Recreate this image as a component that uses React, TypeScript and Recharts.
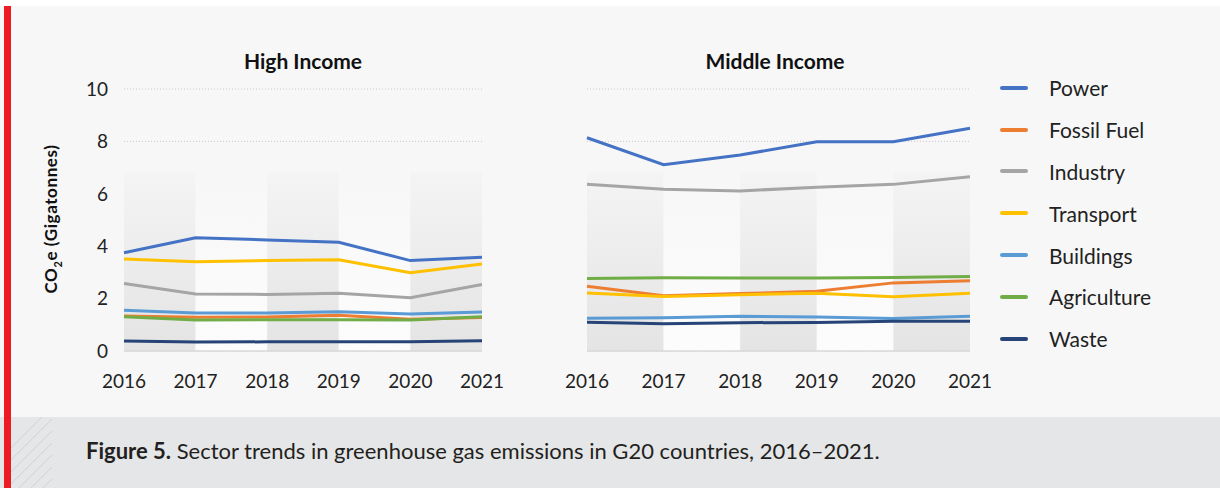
import React from "react";
import {
  LineChart,
  Line,
  XAxis,
  YAxis,
  CartesianGrid,
  ReferenceArea,
} from "recharts";

const years = [2016, 2017, 2018, 2019, 2020, 2021];
const yTicks = [0, 2, 4, 6, 8, 10];

const sectors = ["Power", "Fossil Fuel", "Industry", "Transport", "Buildings", "Agriculture", "Waste"];
const sectorColors = ["#4472C4", "#ED7D31", "#A5A5A5", "#FFC000", "#5B9BD5", "#70AD47", "#264478"];

// High income, Gt CO2e
const highPower = [3.75, 4.32, 4.24, 4.15, 3.45, 3.58];
const highFossil = [1.34, 1.29, 1.3, 1.36, 1.21, 1.28];
const highIndustry = [2.58, 2.18, 2.16, 2.2, 2.03, 2.54];
const highTransport = [3.51, 3.41, 3.45, 3.48, 2.99, 3.32];
const highBuildings = [1.56, 1.45, 1.45, 1.5, 1.41, 1.49];
const highAgriculture = [1.31, 1.18, 1.19, 1.19, 1.18, 1.31];
const highWaste = [0.38, 0.34, 0.35, 0.35, 0.35, 0.39];

// Middle income, Gt CO2e
const midPower = [8.14, 7.11, 7.48, 7.99, 7.99, 8.5];
const midFossil = [2.47, 2.11, 2.19, 2.28, 2.6, 2.68];
const midIndustry = [6.36, 6.17, 6.11, 6.25, 6.36, 6.65];
const midTransport = [2.21, 2.08, 2.15, 2.2, 2.07, 2.2];
const midBuildings = [1.25, 1.27, 1.33, 1.3, 1.24, 1.33];
const midAgriculture = [2.77, 2.8, 2.79, 2.79, 2.81, 2.84];
const midWaste = [1.1, 1.04, 1.08, 1.09, 1.14, 1.14];

const highSeries = [highPower, highFossil, highIndustry, highTransport, highBuildings, highAgriculture, highWaste];
const midSeries = [midPower, midFossil, midIndustry, midTransport, midBuildings, midAgriculture, midWaste];

const buildRows = (series: number[][]) =>
  years.map((year, i) => {
    const row: any = { year };
    sectors.forEach((s, k) => {
      row[s] = series[k][i];
    });
    return row;
  });

const FONT = "Lato, 'Open Sans', sans-serif";
const bandTop = 6.8;

const Panel = ({ id, data, showY, style, margin }: any) => (
  <div style={{ position: "absolute", ...style }}>
    <LineChart width={style.width} height={style.height} data={data} margin={margin}>
      <defs>
        <linearGradient id={`dark-${id}`} x1="0" y1="0" x2="0" y2="1">
          <stop offset="0%" stopColor="#f4f4f4" />
          <stop offset="100%" stopColor="#e4e4e4" />
        </linearGradient>
        <linearGradient id={`light-${id}`} x1="0" y1="0" x2="0" y2="1">
          <stop offset="0%" stopColor="#f7f7f7" />
          <stop offset="100%" stopColor="#fcfcfc" />
        </linearGradient>
      </defs>
      {years.slice(0, -1).map((y, i) => (
        <ReferenceArea
          key={y}
          x1={y}
          x2={years[i + 1]}
          y1={0}
          y2={bandTop}
          fill={`url(#${i % 2 === 0 ? "dark" : "light"}-${id})`}
          fillOpacity={1}
          stroke="none"
          ifOverflow="visible"
        />
      ))}
      <CartesianGrid vertical={false} stroke="#c9c9c9" strokeDasharray="1 2" />
      <XAxis
        dataKey="year"
        type="number"
        domain={[2016, 2021]}
        ticks={years}
        interval={0}
        axisLine={{ stroke: "#d9d9d9", strokeWidth: 1.5 }}
        tickLine={false}
        tickSize={0}
        tickMargin={24}
        height={48}
        tick={{ fill: "#222", fontSize: 19, fontFamily: FONT }}
      />
      <YAxis
        domain={[0, 10]}
        ticks={yTicks}
        interval={0}
        hide={!showY}
        width={50}
        axisLine={false}
        tickLine={false}
        tickSize={0}
        tickMargin={16}
        tick={{ fill: "#222", fontSize: 19, fontFamily: FONT }}
      />
      {sectors.map((s, k) => (
        <Line
          key={s}
          dataKey={s}
          stroke={sectorColors[k]}
          strokeWidth={3}
          dot={false}
          isAnimationActive={false}
        />
      ))}
    </LineChart>
  </div>
);

export default function App() {
  const highRows = buildRows(highSeries);
  const midRows = buildRows(midSeries);

  return (
    <div
      style={{
        position: "absolute",
        left: 0,
        top: 0,
        width: 1220,
        height: 488,
        background: "#ffffff",
        fontFamily: FONT,
        overflow: "hidden",
      }}
    >
      <div style={{ position: "absolute", left: 0, top: 6, width: 1220, height: 411, background: "#f7f7f7" }} />
      <div style={{ position: "absolute", left: 0, top: 417, width: 1220, height: 71, background: "#e5e6e7" }} />
      <svg style={{ position: "absolute", left: 11, top: 417 }} width={41} height={71}>
        {Array.from({ length: 12 }).map((_, i) => (
          <line key={i} x1={-40 + i * 12} y1={71} x2={-40 + i * 12 + 71} y2={0} stroke="#d2d2d2" strokeWidth={1} />
        ))}
      </svg>
      <div style={{ position: "absolute", left: 4, top: 6, width: 7, height: 482, background: "#ed1c24" }} />

      <div style={{ position: "absolute", left: 203, width: 200, top: 48, textAlign: "center", fontWeight: 700, fontSize: 21, color: "#111" }}>
        High Income
      </div>
      <div style={{ position: "absolute", left: 675, width: 200, top: 48, textAlign: "center", fontWeight: 700, fontSize: 21, color: "#111" }}>
        Middle Income
      </div>

      <div
        style={{
          position: "absolute",
          left: 52,
          top: 219,
          transform: "translate(-50%, -50%) rotate(-90deg)",
          whiteSpace: "nowrap",
          fontWeight: 700,
          fontSize: 17,
          letterSpacing: 0.6,
          color: "#111",
        }}
      >
        CO<sub style={{ fontSize: 11 }}>2</sub>e (Gigatonnes)
      </div>

      <Panel
        id="high"
        data={highRows}
        showY
        style={{ left: 60, top: 69, width: 470, height: 330 }}
        margin={{ top: 20, right: 48, bottom: 0, left: 14 }}
      />
      <Panel
        id="mid"
        data={midRows}
        showY={false}
        style={{ left: 550, top: 69, width: 450, height: 330 }}
        margin={{ top: 20, right: 30, bottom: 0, left: 37 }}
      />

      <div style={{ position: "absolute", left: 1000, top: 67 }}>
        {sectors.map((s, k) => (
          <div key={s} style={{ display: "flex", alignItems: "center", height: 41.8 }}>
            <div style={{ width: 28, height: 4, borderRadius: 2, background: sectorColors[k] }} />
            <span style={{ marginLeft: 21, fontSize: 21, color: "#222" }}>{s}</span>
          </div>
        ))}
      </div>

      <div style={{ position: "absolute", left: 86, top: 437, fontSize: 22, color: "#231f20", whiteSpace: "nowrap" }}>
        <b>Figure 5.</b> Sector trends in greenhouse gas emissions in G20 countries, 2016–2021.
      </div>
    </div>
  );
}
